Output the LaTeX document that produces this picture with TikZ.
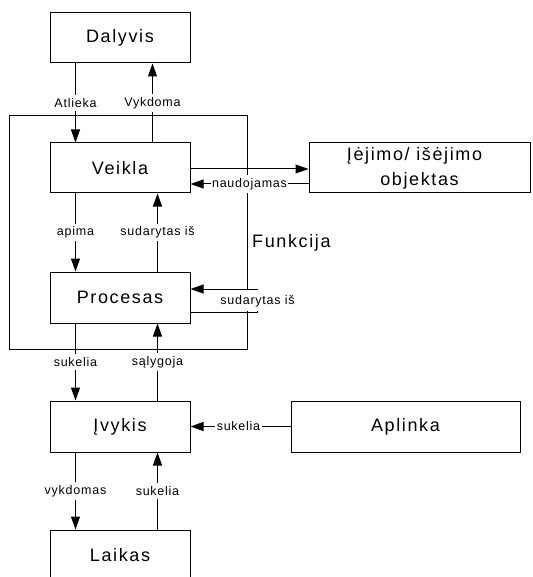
\documentclass[tikz,border=0pt]{standalone}
\usepackage{fontspec}
\setmainfont{Liberation Sans}
\newfontfamily\boxfont[LetterSpace=9]{Liberation Sans}
\newfontfamily\lblfont[LetterSpace=6]{Liberation Sans}
\usetikzlibrary{arrows.meta}

\begin{document}
\begin{tikzpicture}[x=1pt,y=-1pt,
  box/.style={draw, line width=1pt, minimum width=140pt, minimum height=50pt,
    inner sep=0pt, font=\boxfont\fontsize{18}{25}\selectfont},
  lbl/.style={fill=white, inner xsep=1.5pt, inner ysep=3pt,
    font=\lblfont\fontsize{12.5}{14}\selectfont},
  link/.style={line width=1pt},
  arr/.style={link, -{Triangle[length=13pt,width=9pt]}}]

\useasboundingbox (0,0) rectangle (532,577);

% the Funkcija frame
\node[draw, line width=1pt, minimum width=238pt, minimum height=233pt, inner sep=0pt]
  (fun) at (128,232.5) {};
\node[anchor=west, inner sep=0pt, font=\boxfont\fontsize{18}{22}\selectfont]
  (funlbl) at (252,243) {Funkcija};

% boxes
\node[box] (dal) at (120,38) {Dalyvis};
\node[box] (vei) at (120,168) {Veikla};
\node[box, minimum height=51pt] (pro) at (120,297.5) {Procesas};
\node[box, minimum height=51pt] (ivy) at (120,426.5) {Įvykis};
\node[box] (lai) at (120,555) {Laikas};
\node[box, minimum width=221pt, align=center] (obj) at (419.5,168)
  {Įėjimo/ išėjimo\hspace*{10pt}\\objektas};
\node[box, minimum width=229pt, minimum height=51pt] (apl) at (405.5,426.5) {Aplinka};

% vertical connectors
\draw[arr] ([xshift=26pt]dal.south west) -- node[lbl]{Atlieka} ([xshift=26pt]vei.north west);
\draw[arr] ([xshift=103pt]vei.north west) -- node[lbl]{Vykdoma} ([xshift=103pt]dal.south west);
\draw[arr] ([xshift=26pt]vei.south west) -- node[lbl]{apima} ([xshift=26pt]pro.north west);
\draw[arr] ([xshift=108pt]pro.north west) -- node[lbl]{sudarytas iš} ([xshift=108pt]vei.south west);
\draw[arr] ([xshift=26pt]pro.south west) -- node[lbl]{sukelia} ([xshift=26pt]ivy.north west);
\draw[arr] ([xshift=108pt]ivy.north west) -- node[lbl]{sąlygoja} ([xshift=108pt]pro.south west);
\draw[arr] ([xshift=26pt]ivy.south west) -- node[lbl]{vykdomas} ([xshift=26pt]lai.north west);
\draw[arr] ([xshift=108pt]lai.north west) -- node[lbl]{sukelia} ([xshift=108pt]ivy.south west);

% horizontal connectors
\draw[arr] ([yshift=-1pt]vei.east) -- ([yshift=-1pt]obj.west);
\draw[arr] ([yshift=-16pt]obj.west) -- node[lbl]{naudojamas} ([yshift=-16pt]vei.east);
\draw[arr] (apl.west) -- node[lbl, pos=0.52]{sukelia} (ivy.east);

% self loop on Procesas; its label hides the vertical leg and the frame line
\draw[arr] ([yshift=-14.5pt]pro.east) -- ++(67,0)
  -- node[lbl, text height=9.5pt, text depth=2.5pt, inner ysep=4.4pt]{sudarytas iš} ++(0,-23)
  -- ([yshift=8.5pt]pro.east);
\end{tikzpicture}
\end{document}
